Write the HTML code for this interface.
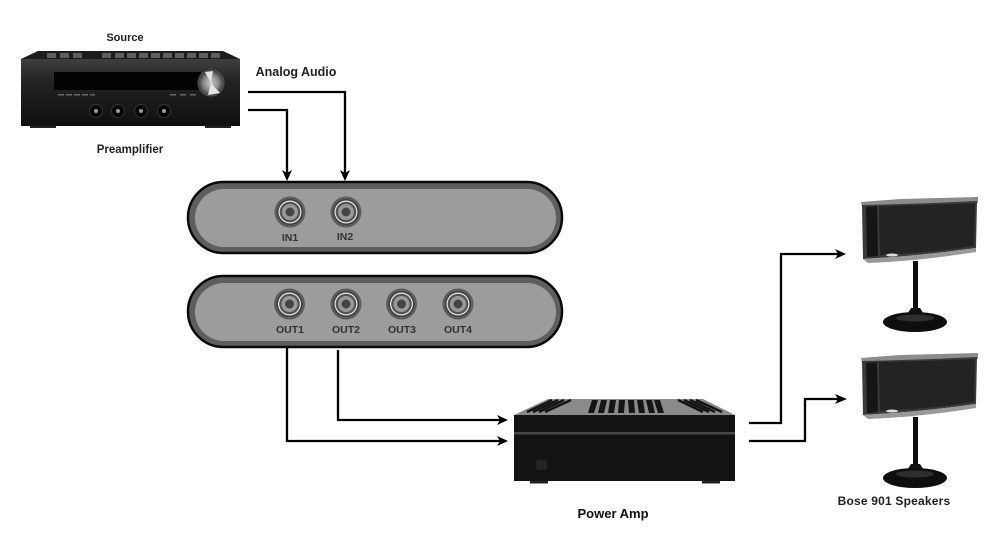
<!DOCTYPE html>
<html><head><meta charset="utf-8"><style>
html,body{margin:0;padding:0;background:#fff}
svg{display:block}
text{font-family:"Liberation Sans",sans-serif;font-weight:bold;text-anchor:middle;fill:#222}
.l{font-size:10.5px;fill:#333}
</style></head><body>
<svg width="991" height="540" viewBox="0 0 991 540" xmlns="http://www.w3.org/2000/svg">
<defs>
<linearGradient id="rb" x1="0" y1="0" x2="0" y2="1"><stop offset="0" stop-color="#3f3f3f"/><stop offset=".35" stop-color="#222"/><stop offset="1" stop-color="#101010"/></linearGradient>
<radialGradient id="kn"><stop offset="0" stop-color="#ccc"/><stop offset=".6" stop-color="#888"/><stop offset="1" stop-color="#333"/></radialGradient>
<g id="jack"><circle r="15.5" fill="#5c5c5c"/><circle r="13" fill="#3f3f3f"/><circle r="11.5" fill="#e8e8e8"/><circle r="10.3" fill="#555"/><circle r="8" fill="#9a9a9a"/><circle r="4.5" fill="#444"/></g>
<g id="spk">
<polygon points="861,202 900,199 978,197 978,203 900,205 862,207" fill="#8c8c8c"/>
<path d="M862,205 Q920,204 977,201 L976,248 Q920,256 863,259 Z" fill="#3a3a3a"/>
<path d="M866,207 L877,206 L878,256 L867,257 Z" fill="#151515"/>
<path d="M879,206 Q930,205 975,203 L974,246 Q930,253 880,255 Z" fill="#232323"/>
<path d="M863,259 Q920,256 976,248 L976,252 Q920,261 868,263 Z" fill="#999"/>
<ellipse cx="892" cy="255" rx="6" ry="1.5" fill="#ddd"/>
<rect x="913" y="261" width="5" height="52" fill="#0c0c0c"/>
<path d="M911,308 L920,308 L925,316 L906,316 Z" fill="#111"/>
<ellipse cx="915" cy="322" rx="32" ry="10" fill="#0e0e0e"/>
<ellipse cx="915" cy="318" rx="19" ry="3.5" fill="#2e2e2e"/>
</g>
</defs>

<rect width="991" height="540" fill="#fff"/>

<!-- Receiver -->
<polygon points="38,51 223,51 240,59 21,59" fill="#1c1c1c"/>
<g fill="#5e5e5e">
<rect x="47" y="53" width="9" height="5"/><rect x="60" y="53" width="9" height="5"/><rect x="73" y="53" width="9" height="5"/>
<rect x="102" y="53" width="9" height="5"/><rect x="115" y="53" width="9" height="5"/><rect x="127" y="53" width="9" height="5"/><rect x="139" y="53" width="9" height="5"/><rect x="151" y="53" width="9" height="5"/><rect x="163" y="53" width="9" height="5"/><rect x="175" y="53" width="9" height="5"/><rect x="187" y="53" width="9" height="5"/><rect x="199" y="53" width="9" height="5"/><rect x="211" y="53" width="9" height="5"/>
</g>
<rect x="21" y="59" width="219" height="67" fill="url(#rb)"/>
<rect x="54" y="72" width="147" height="18" fill="#020202"/>
<g fill="#666"><rect x="58" y="94" width="6" height="1.5"/><rect x="66" y="94" width="6" height="1.5"/><rect x="74" y="94" width="6" height="1.5"/><rect x="82" y="94" width="6" height="1.5"/><rect x="90" y="94" width="5" height="1.5"/><rect x="170" y="94" width="6" height="1.5"/><rect x="180" y="94" width="6" height="1.5"/><rect x="190" y="94" width="6" height="1.5"/></g>
<rect x="30" y="126" width="26" height="2" fill="#222"/><rect x="205" y="126" width="26" height="2" fill="#222"/>
<circle cx="211" cy="83" r="13" fill="url(#kn)" stroke="#555"/>
<path d="M211,83 L205,72 L213,71 Z M211,83 L220,93 L208,95 Z" fill="#e4e4e4"/>
<g fill="#070707" stroke="#333"><circle cx="96" cy="111" r="6.5"/><circle cx="118" cy="111" r="6.5"/><circle cx="141" cy="111" r="6.5"/><circle cx="164" cy="111" r="6.5"/></g>
<g fill="#999"><circle cx="96" cy="111" r="2"/><circle cx="118" cy="111" r="2"/><circle cx="141" cy="111" r="2"/><circle cx="164" cy="111" r="2"/></g>

<text x="125" y="41" style="font-size:11px">Source</text>
<text x="296" y="76" style="font-size:12.5px">Analog Audio</text>
<text x="130" y="153" style="font-size:11.5px">Preamplifier</text>

<!-- Panels -->
<rect x="188" y="182" width="374" height="71" rx="35.5" fill="#5e5e5e" stroke="#0a0a0a" stroke-width="2.5"/>
<rect x="195" y="189" width="361" height="58" rx="29" fill="#9c9c9c"/>
<rect x="188" y="276" width="374" height="71" rx="35.5" fill="#5e5e5e" stroke="#0a0a0a" stroke-width="2.5"/>
<rect x="195" y="283" width="361" height="58" rx="29" fill="#9c9c9c"/>

<use href="#jack" x="290" y="212"/><use href="#jack" x="346" y="212"/>
<use href="#jack" x="289.5" y="304"/><use href="#jack" x="346" y="304"/><use href="#jack" x="401.5" y="304"/><use href="#jack" x="458" y="304"/>
<text class="l" x="290" y="241">IN1</text><text class="l" x="345" y="240">IN2</text>
<text class="l" x="290" y="333">OUT1</text><text class="l" x="346" y="333">OUT2</text><text class="l" x="402" y="333">OUT3</text><text class="l" x="458" y="333">OUT4</text>

<!-- Connectors -->
<g fill="none" stroke="#000" stroke-width="2.3">
<path d="M248,92 H345 V174"/>
<path d="M248,110 H287 V174"/>
<path d="M287,348 V441 H500"/>
<path d="M338,350 V420 H500"/>
<path d="M749,423 H781 V254 H838"/>
<path d="M749,441 H805 V399 H838"/>
</g>
<g fill="#000">
<polygon points="282,170 287,173 292,170 287,181"/>
<polygon points="340,170 345,173 350,170 345,181"/>
<polygon points="497,415 500,420 497,425 508,420"/>
<polygon points="497,436 500,441 497,446 508,441"/>
<polygon points="835,249 838,254 835,259 846,254"/>
<polygon points="835,394 838,399 835,404 847,399"/>
</g>

<!-- Amp -->
<polygon points="548,399 703,399 735,415 514,415" fill="#8a8a8a"/>
<g fill="none" stroke="#151515" stroke-width="2.4">
<path d="M527,412 L552,400 M533,412 L558,400 M539,412 L564,400 M545,412 L571,400"/>
<path d="M678,400 L703,412 M684,400 L709,412 M690,400 L715,412 M696,400 L722,412"/>
</g>
<g fill="#151515">
<polygon points="592,400 598,400 594,413 588,413"/>
<polygon points="601,400 607,400 604,413 598,413"/>
<polygon points="610,400 616,400 614,413 608,413"/>
<polygon points="619,400 625,400 624,413 618,413"/>
<polygon points="628,400 634,400 635,413 629,413"/>
<polygon points="637,400 643,400 645,413 639,413"/>
<polygon points="646,400 652,400 655,413 649,413"/>
<polygon points="654,400 660,400 664,413 658,413"/>
</g>
<rect x="514" y="415" width="221" height="66" fill="#131313"/>
<rect x="514" y="432" width="221" height="2.5" fill="#4a4a4a"/>
<rect x="536" y="460" width="11" height="10" rx="2" fill="#242424"/>
<rect x="530" y="481" width="18" height="2.5" fill="#222"/><rect x="702" y="481" width="18" height="2.5" fill="#222"/>
<text x="613" y="518" style="font-size:13px;fill:#111">Power Amp</text>

<!-- Speakers -->
<use href="#spk"/>
<use href="#spk" y="156"/>
<text x="894" y="505" style="font-size:12px;letter-spacing:.2px">Bose 901 Speakers</text>
</svg>
</body></html>
